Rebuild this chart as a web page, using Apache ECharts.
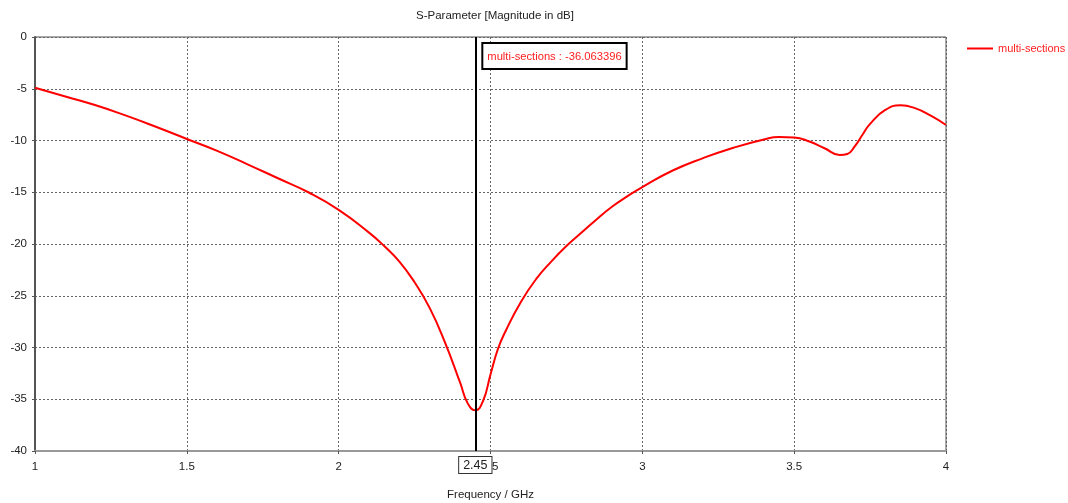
<!DOCTYPE html>
<html>
<head>
<meta charset="utf-8">
<title>S-Parameter [Magnitude in dB]</title>
<script src="https://cdn.jsdelivr.net/npm/echarts@6/dist/echarts.min.js"></script>
<style>
  html, body { margin: 0; padding: 0; background: #ffffff; }
  #chart { width: 1068px; height: 503px; }
</style>
</head>
<body>
<div id="chart"></div>
<script>
// Frequency samples (GHz) and S11 magnitude (dB) of the multi-section design
const freqGHz = [1.0, 1.1, 1.2, 1.3, 1.4, 1.5, 1.6, 1.7, 1.8, 1.9, 2.0, 2.1, 2.15, 2.2, 2.25, 2.3,
  2.35, 2.4, 2.425, 2.45, 2.475, 2.5, 2.525, 2.55, 2.6, 2.65, 2.7, 2.75, 2.8, 2.85, 2.9, 2.95, 3.0,
  3.1, 3.2, 3.3, 3.4, 3.45, 3.5, 3.55, 3.6, 3.65, 3.675, 3.7, 3.725, 3.75, 3.8, 3.85, 3.9, 3.95, 4.0];
const s11dB = [-4.9, -5.75, -6.6, -7.6, -8.7, -9.85, -11.0, -12.3, -13.65, -15.0, -16.7, -18.9,
  -20.2, -21.7, -23.7, -26.2, -29.5, -33.4, -35.4, -36.063396, -35.2, -32.6, -30.1, -28.4, -25.6,
  -23.4, -21.7, -20.2, -18.9, -17.6, -16.4, -15.4, -14.5, -12.9, -11.7, -10.7, -9.9, -9.65, -9.7,
  -10.1, -10.75, -11.4, -11.3, -10.55, -9.45, -8.4, -7.05, -6.6, -6.9, -7.6, -8.5];

// Marker at the design frequency
const markerFreq = 2.45;
const markerValue = -36.063396;

const seriesName = 'multi-sections';
const chartTitle = 'S-Parameter [Magnitude in dB]';
const xAxisTitle = 'Frequency / GHz';

const font = '"Liberation Sans", Arial, sans-serif';

const chart = echarts.init(document.getElementById('chart'), null, { renderer: 'canvas' });

chart.setOption({
  animation: false,
  backgroundColor: '#ffffff',
  title: {
    text: chartTitle,
    left: 490,
    textAlign: 'center',
    top: 5,
    textStyle: { fontFamily: font, fontSize: 11.5, fontWeight: 'normal', color: '#222' }
  },
  legend: {
    left: 962,
    top: 38,
    icon: 'rect',
    itemWidth: 26,
    itemHeight: 2,
    itemGap: 5,
    textStyle: { fontFamily: font, fontSize: 11, color: '#ff2020' },
    data: [seriesName]
  },
  grid: {
    left: 35, right: 122, top: 37, bottom: 52,
    outerBoundsMode: 'none',
    containLabel: false,
    show: true,
    borderColor: '#555',
    borderWidth: 1,
    backgroundColor: '#ffffff'
  },
  xAxis: {
    type: 'value',
    min: 1, max: 4, interval: 0.5,
    name: xAxisTitle,
    nameLocation: 'middle',
    nameGap: 38,
    nameTextStyle: { fontFamily: font, fontSize: 11.5, color: '#222' },
    axisLine: { show: true, onZero: false, lineStyle: { color: '#999', width: 2 } },
    axisTick: { show: true, length: 3, lineStyle: { color: '#555' } },
    axisLabel: { fontFamily: font, fontSize: 11.5, color: '#222', margin: 10 },
    splitLine: { show: true, lineStyle: { color: '#666', type: [2, 2], width: 1 } }
  },
  yAxis: {
    type: 'value',
    min: -40, max: 0, interval: 5,
    axisLine: { show: true, onZero: false, lineStyle: { color: '#555', width: 2 } },
    axisTick: { show: true, length: 3, lineStyle: { color: '#555' } },
    axisLabel: { fontFamily: font, fontSize: 11.5, color: '#222', margin: 8 },
    splitLine: { show: true, lineStyle: { color: '#666', type: [2, 2], width: 1 } }
  },
  series: [{
    name: seriesName,
    type: 'line',
    data: freqGHz.map((f, i) => [f, s11dB[i]]),
    symbol: 'none',
    smooth: 0.5,
    lineStyle: { color: '#ff0000', width: 2 },
    itemStyle: { color: '#ff0000' },
    z: 3,
    markLine: {
      silent: true,
      symbol: ['none', 'none'],
      lineStyle: { color: '#000', width: 2, type: 'solid' },
      label: {
        show: true,
        position: 'start',
        distance: 6,
        formatter: String(markerFreq),
        fontFamily: font,
        fontSize: 12.5,
        color: '#222',
        backgroundColor: '#ffffff',
        borderColor: '#333',
        borderWidth: 1,
        padding: [2, 4, 1, 4]
      },
      data: [{ xAxis: markerFreq }]
    },
    markPoint: {
      silent: true,
      symbol: 'rect',
      symbolSize: 0,
      itemStyle: { color: 'rgba(0,0,0,0)' },
      label: {
        show: true,
        position: [8, 7],
        formatter: seriesName + ' : ' + markerValue.toFixed(6),
        fontFamily: font,
        fontSize: 11.2,
        color: '#ff2020',
        backgroundColor: '#ffffff',
        borderColor: '#000',
        borderWidth: 2,
        padding: [7, 4, 6, 4]
      },
      data: [{ coord: [markerFreq, 0] }]
    }
  }]
});
</script>
</body>
</html>
